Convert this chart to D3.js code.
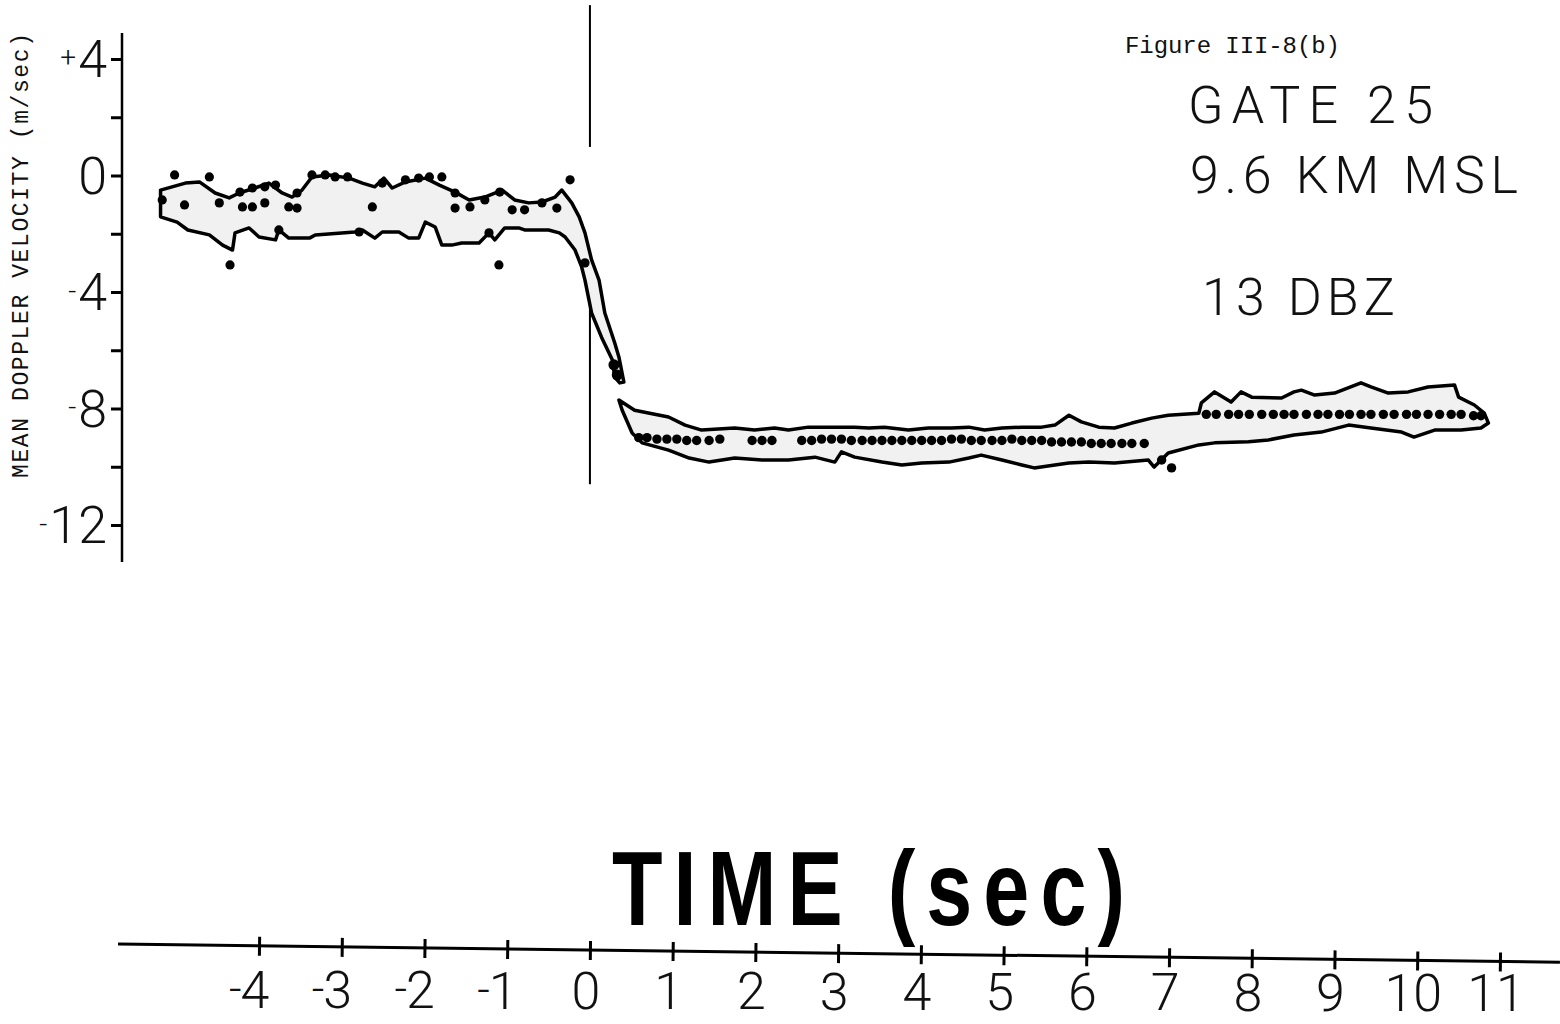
<!DOCTYPE html>
<html lang="en">
<head>
<meta charset="utf-8">
<style>
  body { margin: 0; background: #fff; }
  svg { display: block; }
  .lbl { font-family: Roboto, "Open Sans", sans-serif; font-weight: 300; fill: #111; }
  .mono { font-family: "Liberation Mono", "DejaVu Sans Mono", monospace; fill: #111; }
</style>
</head>
<body>
<div id="viz"></div>
<script src="https://cdn.jsdelivr.net/npm/d3@7/dist/d3.min.js"></script>
<script>

var w = 1560, h = 1024;

// ---- data (time in sec, velocity in m/sec) ----
var yTickValues = [4, 2, 0, -2, -4, -6, -8, -10, -12];
var yLabelValues = [4, 0, -4, -8, -12];
var yTickLabels = ["+4", "0", "-4", "-8", "-12"];

var xTickValues = [-4, -3, -2, -1, 0, 1, 2, 3, 4, 5, 6, 7, 8, 9, 10, 11];
var xTickLabels = ["-4", "-3", "-2", "-1", "0", "1", "2", "3", "4", "5", "6", "7", "8", "9", "10", "11"];

// spread envelope before the jump
var preUpper = [[-5.19,-0.50],[-4.89,-0.26],[-4.72,-0.22],[-4.53,-0.60],[-4.36,-0.77],[-4.24,-0.60],
  [-4.05,-0.43],[-3.88,-0.26],[-3.72,-0.60],[-3.60,-0.74],[-3.48,-0.50],[-3.36,-0.05],[-3.15,0.02],
  [-2.91,-0.09],[-2.75,-0.26],[-2.60,-0.39],[-2.49,-0.09],[-2.39,-0.43],[-2.23,-0.22],[-1.99,-0.09],
  [-1.82,-0.33],[-1.63,-0.57],[-1.46,-0.84],[-1.27,-0.74],[-1.06,-0.50],[-0.91,-0.84],[-0.74,-0.94],
  [-0.58,-0.91],[-0.42,-0.74],[-0.34,-0.50],[-0.22,-0.94],[-0.13,-1.42],[-0.06,-1.97],[0.02,-2.90],
  [0.11,-3.59],[0.18,-4.72],[0.30,-5.75],[0.35,-6.23],[0.41,-7.09]];
var preLower = [[-5.19,-1.42],[-4.99,-1.60],[-4.86,-1.87],[-4.60,-2.04],[-4.44,-2.39],[-4.32,-2.56],
  [-4.29,-1.97],[-4.12,-1.80],[-4.00,-2.11],[-3.80,-2.21],[-3.76,-1.87],[-3.64,-2.15],[-3.39,-2.15],
  [-3.32,-2.04],[-2.84,-1.94],[-2.75,-1.87],[-2.60,-2.15],[-2.51,-1.94],[-2.31,-1.94],[-2.19,-2.15],
  [-2.07,-2.15],[-1.99,-1.60],[-1.87,-1.77],[-1.79,-2.39],[-1.67,-2.39],[-1.55,-2.32],[-1.34,-2.32],
  [-1.22,-1.97],[-1.15,-2.21],[-1.03,-1.80],[-0.86,-1.80],[-0.79,-1.87],[-0.50,-1.87],[-0.37,-1.97],
  [-0.30,-2.11],[-0.18,-2.56],[-0.10,-3.14],[-0.06,-3.59],[0.02,-4.72],[0.14,-5.55],[0.27,-6.33],
  [0.30,-6.92],[0.36,-7.12]];

// spread envelope after the jump
var postUpper = [[0.35,-7.71],[0.54,-8.06],[0.95,-8.29],[1.15,-8.57],[1.35,-8.74],[1.75,-8.67],
  [1.99,-8.74],[2.23,-8.67],[2.40,-8.74],[2.64,-8.64],[2.96,-8.64],[3.20,-8.64],[3.37,-8.67],
  [3.56,-8.64],[3.85,-8.74],[4.09,-8.67],[4.37,-8.67],[4.58,-8.64],[4.77,-8.74],[4.98,-8.67],
  [5.22,-8.64],[5.46,-8.64],[5.62,-8.57],[5.79,-8.23],[5.94,-8.46],[6.15,-8.64],[6.34,-8.67],
  [6.55,-8.50],[6.79,-8.33],[6.99,-8.23],[7.36,-8.16],[7.39,-7.81],[7.55,-7.43],[7.75,-7.78],
  [7.87,-7.43],[8.00,-7.61],[8.36,-7.64],[8.51,-7.43],[8.60,-7.37],[8.76,-7.54],[9.00,-7.47],
  [9.32,-7.12],[9.44,-7.26],[9.65,-7.47],[9.89,-7.43],[10.13,-7.26],[10.45,-7.19],[10.50,-7.61],
  [10.69,-7.88],[10.81,-8.16],[10.86,-8.50]];
var postLower = [[0.39,-8.06],[0.51,-8.84],[0.63,-9.18],[0.95,-9.43],[1.20,-9.70],[1.44,-9.84],
  [1.75,-9.70],[2.08,-9.77],[2.40,-9.77],[2.72,-9.67],[2.96,-9.84],[3.04,-9.49],[3.20,-9.67],
  [3.53,-9.84],[3.77,-9.94],[4.01,-9.87],[4.34,-9.84],[4.58,-9.70],[4.73,-9.60],[4.98,-9.77],
  [5.22,-9.94],[5.37,-10.04],[5.62,-9.94],[5.79,-9.87],[6.03,-9.84],[6.34,-9.87],[6.75,-9.77],
  [6.82,-10.01],[6.99,-9.53],[7.36,-9.25],[7.55,-9.18],[7.96,-9.14],[8.20,-9.08],[8.51,-8.91],
  [8.84,-8.81],[9.17,-8.57],[9.44,-8.67],[9.81,-8.81],[9.96,-8.98],[10.21,-8.74],[10.53,-8.74],
  [10.77,-8.67],[10.86,-8.50]];

// mean velocity estimates
var earlyDots = [[-5.17,-0.84],[-5.02,0.02],[-4.90,-1.01],[-4.60,-0.05],[-4.48,-0.94],[-4.35,-3.07],
  [-4.23,-0.57],[-4.20,-1.08],[-4.08,-1.08],[-4.08,-0.43],[-3.93,-0.94],[-3.93,-0.39],[-3.80,-0.33],
  [-3.76,-1.87],[-3.64,-1.08],[-3.54,-1.12],[-3.54,-0.60],[-3.36,0.02],[-3.20,0.02],[-3.08,-0.05],
  [-2.93,-0.05],[-2.79,-1.94],[-2.63,-1.08],[-2.51,-0.26],[-2.23,-0.15],[-2.07,-0.09],[-1.94,-0.05],
  [-1.79,-0.05],[-1.63,-0.60],[-1.63,-1.12],[-1.45,-1.08],[-1.27,-0.84],[-1.22,-1.97],[-1.10,-3.07],
  [-1.09,-0.57],[-0.94,-1.18],[-0.79,-1.18],[-0.58,-0.94],[-0.40,-1.12],[-0.24,-0.15],[-0.06,-3.00]];
var jumpDots = [[0.29,-6.50],[0.33,-6.85]];
var lowRowT = [0.59,0.69,0.81,0.93,1.05,1.17,1.29,1.44,1.57,1.96,2.08,2.20,2.56,2.68,2.80,2.92,3.04,
  3.16,3.29,3.41,3.53,3.65,3.77,3.89,4.01,4.13,4.25,4.37,4.49,4.61,4.73,4.86,4.98,5.10,5.22,5.34,5.46,
  5.58,5.70,5.82,5.94,6.06,6.18,6.30,6.43,6.55,6.70,6.91,7.03];
var lowRowV = [-9.0,-9.0,-9.05,-9.05,-9.05,-9.1,-9.1,-9.1,-9.05,-9.1,-9.1,-9.1,-9.1,-9.1,-9.05,-9.05,-9.05,
  -9.1,-9.1,-9.1,-9.1,-9.1,-9.1,-9.1,-9.1,-9.1,-9.1,-9.05,-9.05,-9.1,-9.1,-9.1,-9.1,-9.05,-9.1,-9.1,-9.1,
  -9.15,-9.15,-9.15,-9.15,-9.2,-9.2,-9.2,-9.2,-9.2,-9.2,-9.77,-10.04];
var highRowT = [7.45,7.57,7.72,7.84,7.97,8.12,8.26,8.39,8.51,8.66,8.80,8.92,9.06,9.18,9.32,9.44,9.59,
  9.72,9.87,9.99,10.13,10.27,10.41,10.53,10.68,10.77];
var highRowV = [-8.2,-8.2,-8.2,-8.2,-8.2,-8.2,-8.2,-8.2,-8.2,-8.2,-8.2,-8.2,-8.2,-8.2,-8.2,-8.2,-8.2,
  -8.2,-8.2,-8.2,-8.2,-8.2,-8.2,-8.2,-8.25,-8.25];

// time-zero marker, drawn in two pieces (velocity ends)
var markerSpans = [[5.85, 0.98], [-4.3, -10.6]];

// ---- drawing ----
var svg = d3.select("#viz").append("svg")
  .attr("width", w).attr("height", h);

var x = d3.scaleLinear().domain([-4, 11]).range([259, 1500]);
var y = d3.scaleLinear().domain([4, -12]).range([59, 525]);

// band outlines
var poly = d3.line()
  .x(function(d){ return x(d[0]); })
  .y(function(d){ return y(d[1]); });

function band(upper, lower){
  var pts = upper.concat(lower.slice().reverse());
  svg.append("path")
    .attr("d", poly(pts) + "Z")
    .style("fill", "#f1f1f1")
    .style("stroke", "#000")
    .style("stroke-width", 3.5)
    .style("stroke-linejoin", "round");
}

// marker line at t = 0
markerSpans.forEach(function(s){
  svg.append("line")
    .attr("x1", x(0)).attr("x2", x(0))
    .attr("y1", y(s[0])).attr("y2", y(s[1]))
    .style("stroke", "#000").style("stroke-width", 2);
});

band(preUpper, preLower);
band(postUpper, postLower);

function dots(list, r){
  svg.append("g").selectAll("circle")
    .data(list)
    .enter().append("circle")
    .attr("cx", function(d){ return x(d[0]); })
    .attr("cy", function(d){ return y(d[1]); })
    .attr("r", r)
    .style("fill", "#000");
}
dots(earlyDots, 4.6);
dots(jumpDots, 5.5);
dots(lowRowT.map(function(t, i){ return [t, lowRowV[i]]; }), 4.7);
dots(highRowT.map(function(t, i){ return [t, highRowV[i]]; }), 4.7);

// y axis
var yAxis = d3.axisLeft(y).tickValues(yTickValues).tickSize(11).tickFormat("");
var gy = svg.append("g").attr("transform", "translate(122,0)").call(yAxis);
gy.select(".domain").remove();
gy.selectAll(".tick line").style("stroke", "#000").style("stroke-width", 3);
svg.append("line")
  .attr("x1", 122).attr("x2", 122).attr("y1", 33).attr("y2", 562)
  .style("stroke", "#000").style("stroke-width", 2.5);

yLabelValues.forEach(function(v, i){
  var s = yTickLabels[i];
  var sign = (s[0] == "+" || s[0] == "-") ? s[0] : "";
  var num = sign ? s.slice(1) : s;
  var t = svg.append("text").attr("class", "lbl")
    .attr("x", 107).attr("y", y(v)).attr("dy", "0.355em")
    .attr("text-anchor", "end")
    .style("font-size", "52px")
    .text(num);
  if(sign){
    var bb = t.node().getBBox();
    svg.append("text").attr("class", "lbl")
      .attr("x", bb.x - 2).attr("y", y(v) - 2).attr("dy", "0.35em")
      .attr("text-anchor", "end")
      .style("font-size", "28px")
      .text(sign);
  }
});

svg.append("text").attr("class", "mono")
  .attr("transform", "translate(28,478) rotate(-90)")
  .attr("textLength", 445).attr("lengthAdjust", "spacing")
  .style("font-size", "23px")
  .text("MEAN DOPPLER VELOCITY (m/sec)");

// bottom time axis (slightly tilted, as drawn)
var gx = svg.append("g").attr("transform", "rotate(0.72,590,950)");
gx.append("line")
  .attr("x1", 118).attr("x2", 1560).attr("y1", 950).attr("y2", 950)
  .style("stroke", "#000").style("stroke-width", 3);
var xAxis = d3.axisBottom(x).tickValues(xTickValues).tickSize(10).tickFormat("");
var ga = gx.append("g").attr("transform", "translate(0,950)").call(xAxis);
ga.select(".domain").remove();
ga.selectAll(".tick line").attr("y1", -9).style("stroke", "#000").style("stroke-width", 3);

xTickValues.forEach(function(v, i){
  var s = xTickLabels[i];
  var neg = s[0] == "-";
  var num = neg ? s.slice(1) : s;
  var base = 1008 + (x(v) - 259) * 0.0026;
  var t = svg.append("text").attr("class", "lbl")
    .attr("x", x(v) - 4).attr("y", base)
    .attr("text-anchor", "middle")
    .style("font-size", "52px")
    .text(num);
  if(neg){
    var bb = t.node().getBBox();
    svg.append("text").attr("class", "lbl")
      .attr("x", bb.x + 1).attr("y", base - 4)
      .attr("text-anchor", "end")
      .style("font-size", "44px")
      .text("-");
  }
});

// big axis title, condensed by a horizontal squeeze
svg.append("text")
  .attr("transform", "translate(612,925) scale(0.78,1)")
  .attr("textLength", 513 / 0.78).attr("lengthAdjust", "spacing")
  .style("font-family", "'Liberation Sans', Arial, sans-serif")
  .style("font-weight", "bold").style("font-size", "106px").style("fill", "#000")
  .text("TIME (sec)");

// annotations
svg.append("text").attr("class", "mono")
  .attr("x", 1125).attr("y", 53)
  .attr("textLength", 215).attr("lengthAdjust", "spacing")
  .style("font-size", "24px")
  .text("Figure III-8(b)");

var notes = [
  {text: "GATE 25", x: 1188, y: 123, len: 245},
  {text: "9.6 KM MSL", x: 1190, y: 193, len: 328},
  {text: "13 DBZ", x: 1202, y: 315, len: 193}
];
notes.forEach(function(n){
  svg.append("text").attr("class", "lbl")
    .attr("x", n.x).attr("y", n.y)
    .attr("textLength", n.len).attr("lengthAdjust", "spacing")
    .style("font-size", "52px")
    .text(n.text);
});

</script>
</body>
</html>
